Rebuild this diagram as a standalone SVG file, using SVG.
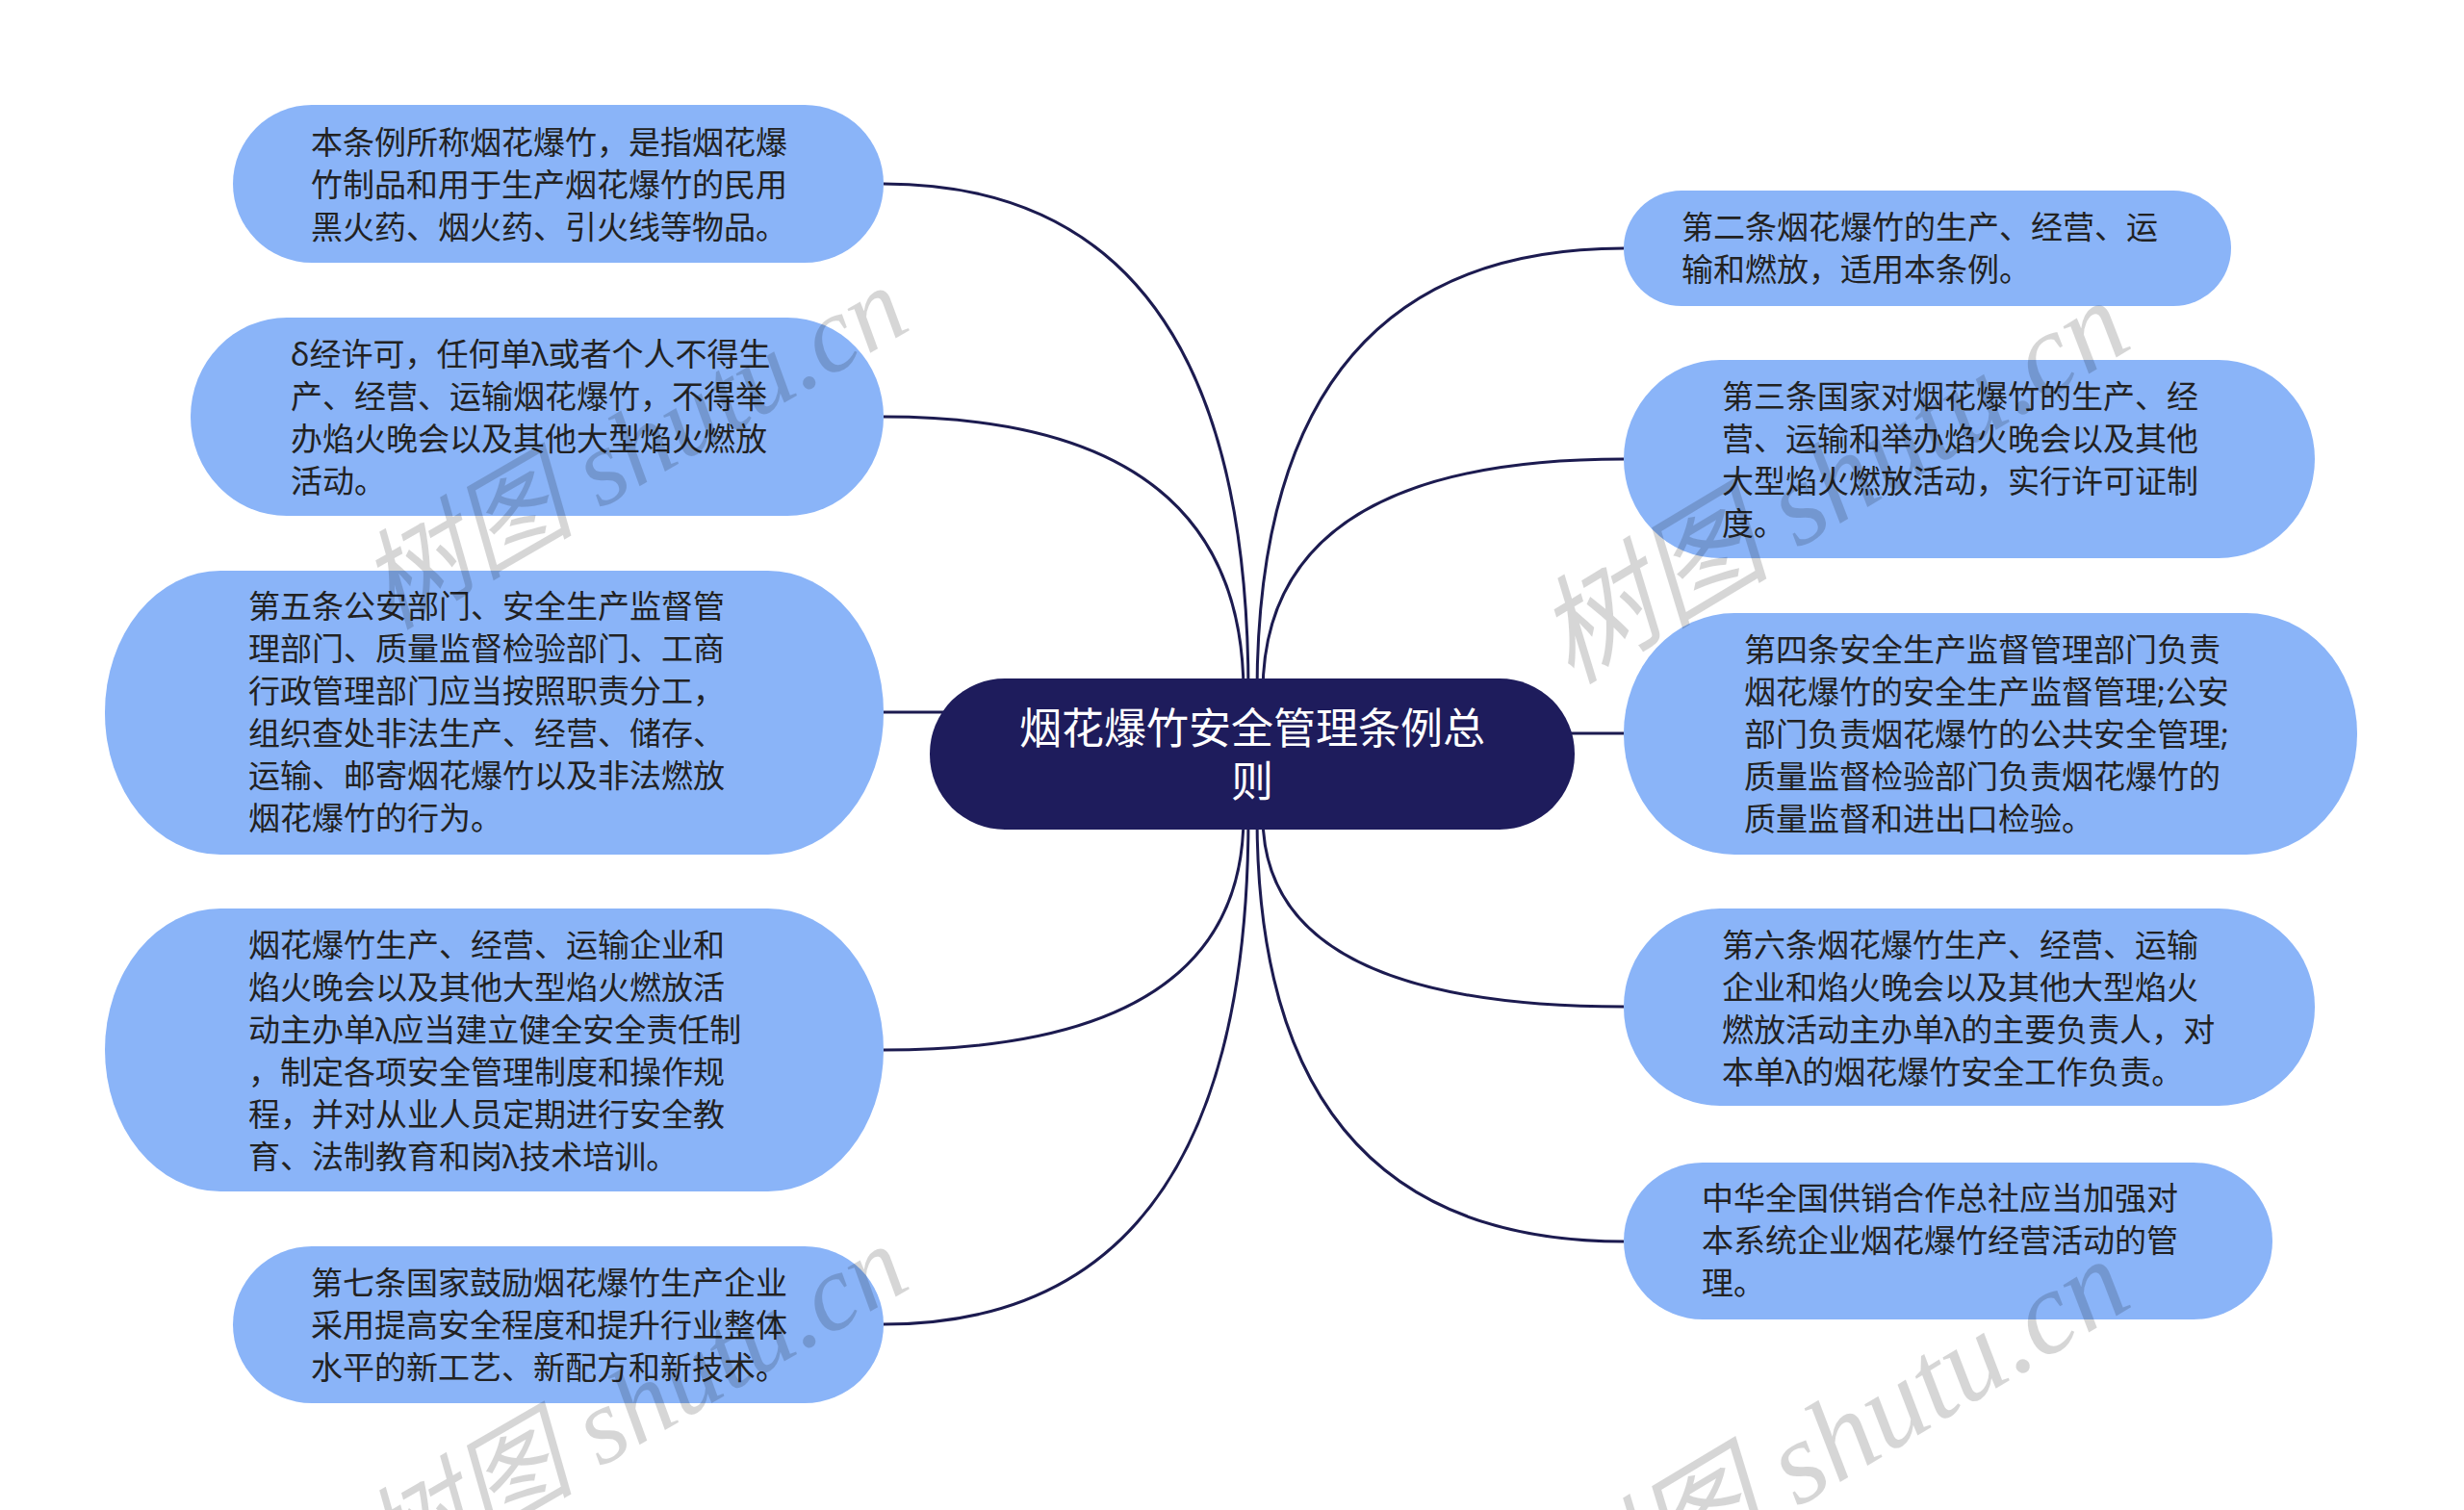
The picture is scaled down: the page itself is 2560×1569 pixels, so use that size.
<svg xmlns="http://www.w3.org/2000/svg" width="2560" height="1569" viewBox="0 0 2560 1569">
<style>
.leaf{fill:#8ab4f8;}
.lt{font-family:"Noto Sans","Noto Sans CJK SC",sans-serif;font-size:33px;fill:#222;}
.root{fill:#1e1c5c;}
.rt{font-family:"Noto Sans","Noto Sans CJK SC",sans-serif;font-size:44px;fill:#fff;text-anchor:middle;}
.conn path{fill:none;stroke:#1c1b50;stroke-width:3;}
.wm{font-family:"Liberation Serif","Noto Sans CJK SC",serif;font-style:italic;font-size:112px;fill:#000;fill-opacity:0.16;}
.wm2{font-size:122px;}
</style>
<rect x="0" y="0" width="2560" height="1569" fill="#fff"/>
<g class="conn" id="connectors">
<path d="M1297 720 Q1297 191 918 191"/>
<path d="M1292 720 Q1292 433 918 433"/>
<path d="M990 740 L918 740"/>
<path d="M1292 848 Q1292 1091 918 1091"/>
<path d="M1297 848 Q1297 1376 918 1376"/>
<path d="M1306 720 Q1306 258 1687 258"/>
<path d="M1312 720 Q1312 477 1687 477"/>
<path d="M1620 762 L1687 762"/>
<path d="M1312 848 Q1312 1046 1687 1046"/>
<path d="M1306 848 Q1306 1290 1687 1290"/>
</g>
<g id="root">
<rect class="root" x="966" y="705" width="670" height="157" rx="78" ry="78"/>
<text class="rt" x="1301" y="773">烟花爆竹安全管理条例总</text>
<text class="rt" x="1301" y="828">则</text>
</g>
<g id="L1">
<rect class="leaf" x="242" y="109" width="676" height="164" rx="82" ry="82"/>
<text class="lt" x="323" y="160">本条例所称烟花爆竹，是指烟花爆</text>
<text class="lt" x="323" y="204">竹制品和用于生产烟花爆竹的民用</text>
<text class="lt" x="323" y="248">黑火药、烟火药、引火线等物品。</text>
</g>
<g id="L2">
<rect class="leaf" x="198" y="330" width="720" height="206" rx="100" ry="103"/>
<text class="lt" x="302" y="380">δ经许可，任何单λ或者个人不得生</text>
<text class="lt" x="302" y="424">产、经营、运输烟花爆竹，不得举</text>
<text class="lt" x="302" y="468">办焰火晚会以及其他大型焰火燃放</text>
<text class="lt" x="302" y="512">活动。</text>
</g>
<g id="L3">
<rect class="leaf" x="109" y="593" width="809" height="295" rx="120" ry="147"/>
<text class="lt" x="258" y="642">第五条公安部门、安全生产监督管</text>
<text class="lt" x="258" y="686">理部门、质量监督检验部门、工商</text>
<text class="lt" x="258" y="730">行政管理部门应当按照职责分工，</text>
<text class="lt" x="258" y="774">组织查处非法生产、经营、储存、</text>
<text class="lt" x="258" y="818">运输、邮寄烟花爆竹以及非法燃放</text>
<text class="lt" x="258" y="862">烟花爆竹的行为。</text>
</g>
<g id="L4">
<rect class="leaf" x="109" y="944" width="809" height="294" rx="120" ry="147"/>
<text class="lt" x="258" y="994">烟花爆竹生产、经营、运输企业和</text>
<text class="lt" x="258" y="1038">焰火晚会以及其他大型焰火燃放活</text>
<text class="lt" x="258" y="1082">动主办单λ应当建立健全安全责任制</text>
<text class="lt" x="258" y="1126">，制定各项安全管理制度和操作规</text>
<text class="lt" x="258" y="1170">程，并对从业人员定期进行安全教</text>
<text class="lt" x="258" y="1214">育、法制教育和岗λ技术培训。</text>
</g>
<g id="L5">
<rect class="leaf" x="242" y="1295" width="676" height="163" rx="82" ry="82"/>
<text class="lt" x="323" y="1345">第七条国家鼓励烟花爆竹生产企业</text>
<text class="lt" x="323" y="1389">采用提高安全程度和提升行业整体</text>
<text class="lt" x="323" y="1433">水平的新工艺、新配方和新技术。</text>
</g>
<g id="R1">
<rect class="leaf" x="1687" y="198" width="631" height="120" rx="60" ry="60"/>
<text class="lt" x="1747" y="248">第二条烟花爆竹的生产、经营、运</text>
<text class="lt" x="1747" y="292">输和燃放，适用本条例。</text>
</g>
<g id="R2">
<rect class="leaf" x="1687" y="374" width="718" height="206" rx="100" ry="103"/>
<text class="lt" x="1789" y="424">第三条国家对烟花爆竹的生产、经</text>
<text class="lt" x="1789" y="468">营、运输和举办焰火晚会以及其他</text>
<text class="lt" x="1789" y="512">大型焰火燃放活动，实行许可证制</text>
<text class="lt" x="1789" y="556">度。</text>
</g>
<g id="R3">
<rect class="leaf" x="1687" y="637" width="762" height="251" rx="115" ry="125"/>
<text class="lt" x="1812" y="687">第四条安全生产监督管理部门负责</text>
<text class="lt" x="1812" y="731">烟花爆竹的安全生产监督管理;公安</text>
<text class="lt" x="1812" y="775">部门负责烟花爆竹的公共安全管理;</text>
<text class="lt" x="1812" y="819">质量监督检验部门负责烟花爆竹的</text>
<text class="lt" x="1812" y="863">质量监督和进出口检验。</text>
</g>
<g id="R4">
<rect class="leaf" x="1687" y="944" width="718" height="205" rx="100" ry="102"/>
<text class="lt" x="1789" y="994">第六条烟花爆竹生产、经营、运输</text>
<text class="lt" x="1789" y="1038">企业和焰火晚会以及其他大型焰火</text>
<text class="lt" x="1789" y="1082">燃放活动主办单λ的主要负责人，对</text>
<text class="lt" x="1789" y="1126">本单λ的烟花爆竹安全工作负责。</text>
</g>
<g id="R5">
<rect class="leaf" x="1687" y="1208" width="674" height="163" rx="82" ry="82"/>
<text class="lt" x="1768" y="1257">中华全国供销合作总社应当加强对</text>
<text class="lt" x="1768" y="1301">本系统企业烟花爆竹经营活动的管</text>
<text class="lt" x="1768" y="1345">理。</text>
</g>
<g id="watermarks">
<text class="wm" transform="translate(405 655) rotate(-30)">树图 shutu.cn</text>
<text class="wm wm2" transform="translate(1632 712) rotate(-31)">树图 shutu.cn</text>
<text class="wm" transform="translate(405 1651) rotate(-30)">树图 shutu.cn</text>
<text class="wm wm2" transform="translate(1632 1708) rotate(-31)">树图 shutu.cn</text>
</g>
</svg>
